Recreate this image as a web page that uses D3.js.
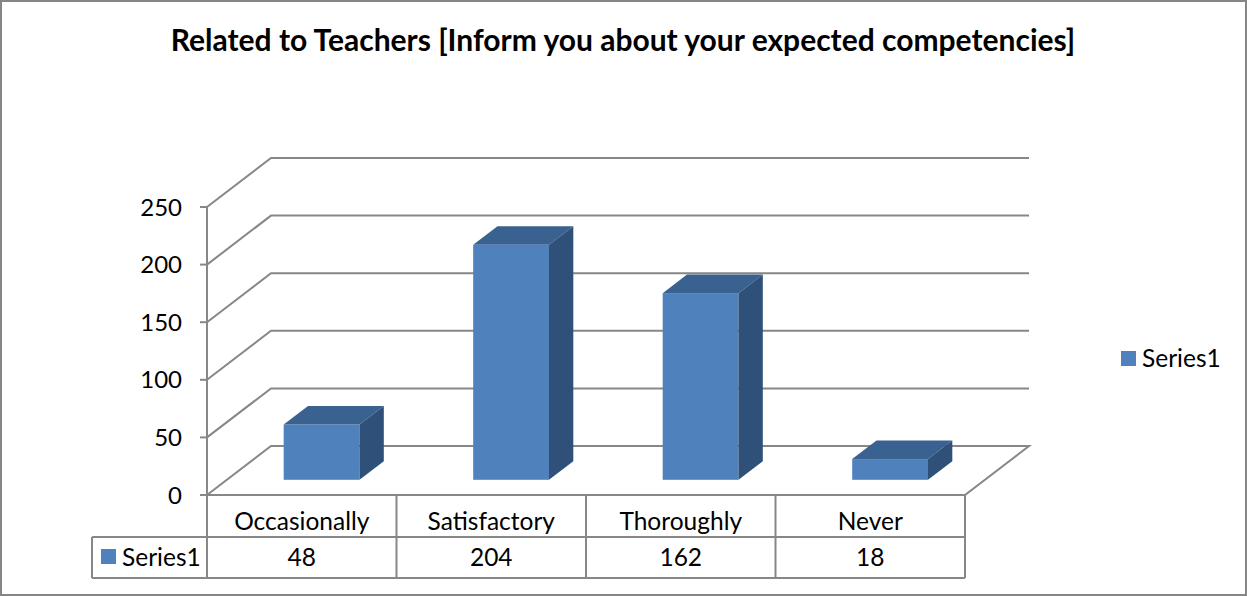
<!DOCTYPE html>
<html>
<head>
<meta charset="utf-8">
<script src="https://cdn.jsdelivr.net/npm/d3@7/dist/d3.min.js"></script>
<style>
  html, body { margin: 0; padding: 0; background: #fff; }
  svg { display: block; font-family: Lato, "Open Sans", sans-serif; }
</style>
</head>
<body>
<svg id="chart" width="1247" height="596"></svg>
<script>
// Chart data
const title = "Related to Teachers [Inform you about your expected competencies]";
const categories = ["Occasionally", "Satisfactory", "Thoroughly", "Never"];
const seriesName = "Series1";
const values = [48, 204, 162, 18];
const yTicks = [0, 50, 100, 150, 200, 250];

const W = 1247, H = 596;
const svg = d3.select("#chart");

const gridColor = "#878787";
const faceFront = "#4F81BD";
const faceTop = "#3A6291";
const faceSide = "#2F5179";

// Plot geometry: front plane of the 3D box and its depth offset
const plot = { left: 207, right: 965, top: 207, bottom: 495 };
const depth = { dx: 64, dy: -49 };
const barZ = [0.31, 0.69]; // front/back depth fraction of the columns

const y = d3.scaleLinear().domain([0, 250]).range([plot.bottom, plot.top]);
const x = d3.scaleBand().domain(categories).range([plot.left, plot.right])
  .paddingInner(0.6).paddingOuter(0.3);

// outer border
svg.append("rect").attr("x", 1).attr("y", 1).attr("width", W - 2).attr("height", H - 2)
  .attr("fill", "#fff").attr("stroke", "#868686").attr("stroke-width", 2);

// title
svg.append("text").attr("x", 623).attr("y", 51).attr("text-anchor", "middle")
  .attr("font-weight", "bold").attr("font-size", 30).attr("fill", "#000").text(title);

// back wall gridlines with their diagonal on the side wall
const grid = svg.append("g").attr("fill", "none").attr("stroke", gridColor).attr("stroke-width", 2);
yTicks.forEach(t => {
  const p = d3.path();
  p.moveTo(plot.left, y(t));
  p.lineTo(plot.left + depth.dx, y(t) + depth.dy);
  p.lineTo(plot.right + depth.dx, y(t) + depth.dy);
  if (t === 0) {
    p.lineTo(plot.right, y(t));
    p.lineTo(plot.left, y(t));
  }
  grid.append("path").attr("d", p.toString());
});

// vertical axis and tick marks
const axis = svg.append("g").attr("stroke", gridColor).attr("stroke-width", 2);
axis.append("line").attr("x1", plot.left).attr("x2", plot.left)
  .attr("y1", y(250)).attr("y2", y(0));
yTicks.forEach(t => {
  axis.append("line").attr("x1", plot.left - 7).attr("x2", plot.left)
    .attr("y1", y(t)).attr("y2", y(t));
});
svg.append("g").selectAll("text").data(yTicks).join("text")
  .attr("x", 182).attr("y", d => y(d)).attr("dy", "0.36em")
  .attr("text-anchor", "end").attr("font-size", 24).attr("fill", "#000")
  .text(d => d);

// 3D columns
const fx = depth.dx * barZ[0], fy = depth.dy * barZ[0];
const bx = depth.dx * barZ[1], by = depth.dy * barZ[1];
const bars = svg.append("g");
categories.forEach((c, i) => {
  const v = values[i];
  const x0 = x(c) + fx, x1 = x(c) + x.bandwidth() + fx;
  const yb = y(0) + fy, yt = y(v) + fy;
  const g = bars.append("g");
  g.append("rect").attr("x", x0).attr("y", yt).attr("width", x1 - x0).attr("height", yb - yt)
    .attr("fill", faceFront);
  g.append("path").attr("fill", faceTop)
    .attr("d", `M${x0},${yt}L${x0 + bx - fx},${yt + by - fy}L${x1 + bx - fx},${yt + by - fy}L${x1},${yt}Z`);
  g.append("path").attr("fill", faceSide)
    .attr("d", `M${x1},${yt}L${x1 + bx - fx},${yt + by - fy}L${x1 + bx - fx},${yb + by - fy}L${x1},${yb}Z`);
});

// data table under the plot
const tbl = svg.append("g");
const rowTop = [495, 537, 578];
const tableLeft = 92;
const colEdges = d3.range(categories.length + 1).map(i => plot.left + i * x.step());
const tl = tbl.append("g").attr("stroke", gridColor).attr("stroke-width", 2).attr("fill", "none");
// horizontal lines
tl.append("line").attr("x1", plot.left).attr("x2", plot.right).attr("y1", rowTop[0]).attr("y2", rowTop[0]);
tl.append("line").attr("x1", tableLeft).attr("x2", plot.right).attr("y1", rowTop[1]).attr("y2", rowTop[1]);
tl.append("line").attr("x1", tableLeft).attr("x2", plot.right).attr("y1", rowTop[2]).attr("y2", rowTop[2]);
// vertical lines
colEdges.forEach(cx => {
  tl.append("line").attr("x1", cx).attr("x2", cx).attr("y1", rowTop[0]).attr("y2", rowTop[2]);
});
tl.append("line").attr("x1", tableLeft).attr("x2", tableLeft).attr("y1", rowTop[1]).attr("y2", rowTop[2]);

categories.forEach((c, i) => {
  const cx = (colEdges[i] + colEdges[i + 1]) / 2;
  tbl.append("text").attr("x", cx).attr("y", 530).attr("text-anchor", "middle")
    .attr("font-size", 24.5).attr("fill", "#000").text(c);
  tbl.append("text").attr("x", cx).attr("y", 566).attr("text-anchor", "middle")
    .attr("font-size", 24.5).attr("fill", "#000").text(values[i]);
});
tbl.append("rect").attr("x", 101).attr("y", 549).attr("width", 15).attr("height", 15).attr("fill", faceFront);
tbl.append("text").attr("x", 122).attr("y", 566).attr("font-size", 24.5).attr("fill", "#000").text(seriesName);

// legend
const lg = svg.append("g");
lg.append("rect").attr("x", 1121).attr("y", 351).attr("width", 15).attr("height", 15).attr("fill", faceFront);
lg.append("text").attr("x", 1142).attr("y", 367).attr("font-size", 24.5).attr("fill", "#000").text(seriesName);
</script>
</body>
</html>
